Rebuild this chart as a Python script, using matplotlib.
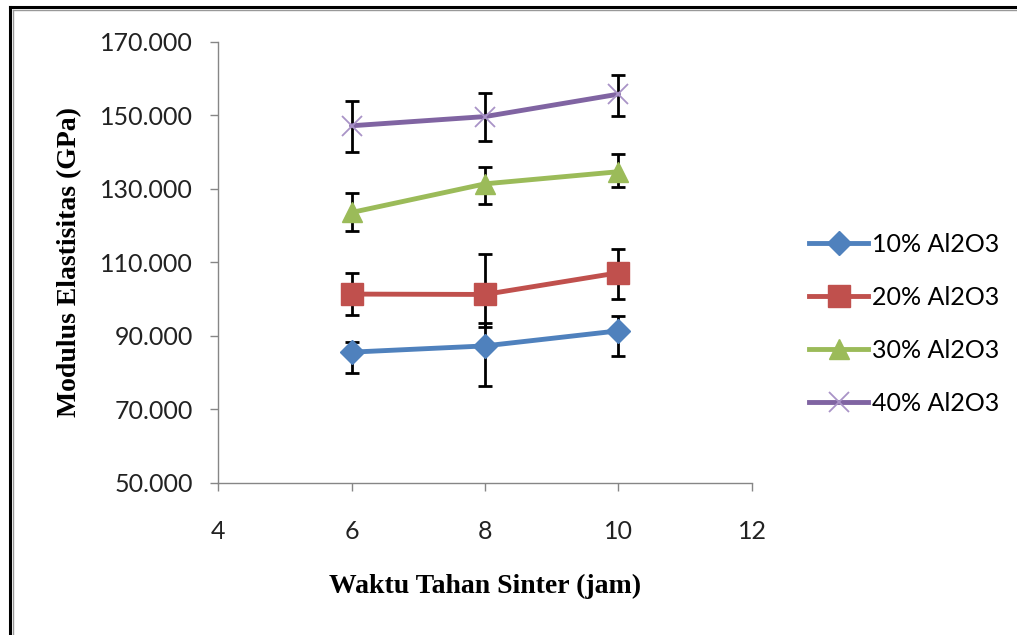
import matplotlib
matplotlib.use("Agg")
import matplotlib.pyplot as plt
from matplotlib.lines import Line2D
import numpy as np

x_jam = [6, 8, 10]
labels = ["10% Al2O3", "20% Al2O3", "30% Al2O3", "40% Al2O3"]
s10 = [85.6, 87.3, 91.4]
s20 = [101.4, 101.3, 107.2]
s30 = [123.6, 131.4, 134.7]
s40 = [147.2, 149.7, 155.8]
# error bar ends (lower, upper)
lo10 = [79.9, 76.5, 84.5]
hi10 = [88.4, 93.6, 95.4]
lo20 = [95.8, 92.5, 100.0]
hi20 = [107.2, 112.2, 113.7]
lo30 = [118.7, 125.9, 130.6]
hi30 = [128.8, 136.1, 139.5]
lo40 = [140.0, 143.1, 149.9]
hi40 = [154.0, 156.0, 161.0]
yticks = [50, 70, 90, 110, 130, 150, 170]
ytick_labels = ["50.000", "70.000", "90.000", "110.000", "130.000", "150.000", "170.000"]
xticks = [4, 6, 8, 10, 12]

series = [s10, s20, s30, s40]
los = [lo10, lo20, lo30, lo40]
his = [hi10, hi20, hi30, hi40]
colors = ["#4F81BD", "#C0504D", "#9BBB59", "#8064A2"]
markers = ["D", "s", "^", "x"]
msizes = [12, 16, 15, 15]
mfc = ["#4F81BD", "#C0504D", "#9BBB59", "#A993C7"]

tick_font = "Lato"
serif = "Liberation Serif"

fig = plt.figure(figsize=(10.17, 6.35), dpi=100)
ax = fig.add_axes([0.2144, 0.2394, 0.5250, 0.6945])

for s, lo, hi, c, m, ms, fc, lab in zip(series, los, his, colors, markers, msizes, mfc, labels):
    s = np.array(s); lo = np.array(lo); hi = np.array(hi)
    ax.errorbar(x_jam, s, yerr=[s - lo, hi - s], fmt="none", ecolor="black",
                elinewidth=2, capsize=5, capthick=2, zorder=2)
    if m == "x":
        ax.plot(x_jam, s, color=c, lw=3.5, zorder=3, solid_capstyle="round")
        ax.plot(x_jam, s, ls="none", marker=m, ms=ms, mec=fc, mew=1.3, zorder=4)
    else:
        ax.plot(x_jam, s, color=c, lw=3.5, marker=m, ms=ms, mfc=fc, mec=fc, zorder=3,
                solid_capstyle="round")

ax.set_xlim(4, 12)
ax.set_ylim(50, 170)
ax.set_xticks(xticks)
ax.set_yticks(yticks)
ax.set_yticklabels(ytick_labels)
for sp in ["top", "right"]:
    ax.spines[sp].set_visible(False)
for sp in ["left", "bottom"]:
    ax.spines[sp].set_color("#868686")
    ax.spines[sp].set_linewidth(1.0)
ax.tick_params(axis="both", direction="out", length=6, width=1.0, color="#868686",
               labelsize=18, labelcolor="#222222")
ax.tick_params(axis="y", pad=12)
ax.tick_params(axis="x", pad=21)
for t in ax.get_xticklabels() + ax.get_yticklabels():
    t.set_fontfamily(tick_font)

ax.set_xlabel("Waktu Tahan Sinter (jam)", fontfamily=serif, fontweight="bold",
              fontsize=20, labelpad=22)
ax.set_ylabel("Modulus Elastisitas (GPa)", fontfamily=serif, fontweight="bold",
              fontsize=20, labelpad=13)

handles = []
for c, m, ms, fc, lab in zip(colors, markers, msizes, mfc, labels):
    if m == "x":
        handles.append(Line2D([0], [0], color=c, lw=3.5, marker=m, ms=ms, mec=fc, mew=1.3))
    else:
        handles.append(Line2D([0], [0], color=c, lw=3.5, marker=m, ms=ms, mfc=fc, mec=fc))
leg = fig.legend(handles=handles, labels=labels, loc="center left",
                 bbox_to_anchor=(0.786, 0.49), frameon=False,
                 prop={"family": tick_font, "size": 18}, labelspacing=1.2,
                 handlelength=2.35, handletextpad=0.15, borderaxespad=0)

# outer frame (left and top edges)
fig.add_artist(Line2D([0.0098, 0.0098], [0, 0.989], transform=fig.transFigure, color="black", lw=2.2))
fig.add_artist(Line2D([0.0098, 1.0], [0.989, 0.989], transform=fig.transFigure, color="black", lw=2.2))
fig.add_artist(Line2D([0.0128, 0.0128], [0, 0.985], transform=fig.transFigure, color="#999999", lw=1.0))
fig.add_artist(Line2D([0.0128, 1.0], [0.985, 0.985], transform=fig.transFigure, color="#999999", lw=1.0))

fig.savefig("out.png", dpi=100)
